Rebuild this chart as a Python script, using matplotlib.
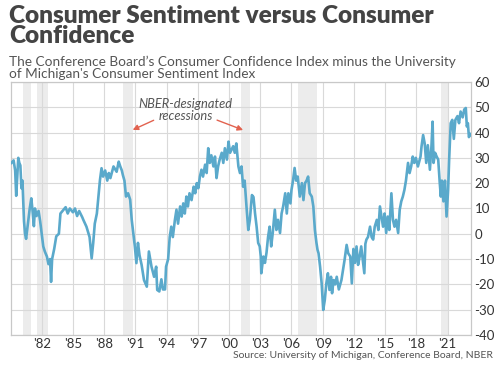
"""
Consumer Confidence (Conference Board) minus Consumer Sentiment (UMich).
"""
import matplotlib.pyplot as plt

plt.rcParams['font.family'] = ['Lato', 'DejaVu Sans']
plt.rcParams['axes.unicode_minus'] = False

# decimal year, index difference
years = [
    1979.10, 1979.30, 1979.45, 1979.55, 1979.75, 1979.85, 1979.95, 1980.05,
    1980.15, 1980.30, 1980.40, 1980.50, 1980.70, 1980.85, 1981.00, 1981.10,
    1981.25, 1981.35, 1981.50, 1981.70, 1981.85, 1982.00, 1982.15, 1982.30,
    1982.50, 1982.65, 1982.80, 1982.90, 1983.00, 1983.20, 1983.40, 1983.65,
    1983.80, 1984.10, 1984.30, 1984.50, 1984.70, 1985.00, 1985.20, 1985.40,
    1985.60, 1985.90, 1986.00, 1986.30, 1986.60, 1986.80, 1986.95, 1987.10,
    1987.30, 1987.45, 1987.60, 1987.75, 1987.90, 1988.10, 1988.30, 1988.45,
    1988.60, 1988.90, 1989.20, 1989.40, 1989.55, 1989.70, 1989.80, 1989.95,
    1990.10, 1990.30, 1990.50, 1990.65, 1990.80, 1990.95, 1991.10, 1991.25,
    1991.40, 1991.60, 1991.83, 1992.10, 1992.30, 1992.55, 1992.80, 1993.00,
    1993.10, 1993.30, 1993.50, 1993.65, 1993.85, 1993.95, 1994.15, 1994.30,
    1994.45, 1994.60, 1994.80, 1994.95, 1995.10, 1995.30, 1995.45, 1995.60,
    1995.75, 1995.90, 1996.05, 1996.20, 1996.40, 1996.60, 1996.75, 1996.90,
    1997.05, 1997.20, 1997.35, 1997.50, 1997.70, 1997.85, 1998.00, 1998.15,
    1998.30, 1998.50, 1998.65, 1998.80, 1998.95, 1999.10, 1999.30, 1999.45,
    1999.60, 1999.80, 1999.95, 2000.10, 2000.25, 2000.40, 2000.55, 2000.70,
    2000.90, 2001.05, 2001.20, 2001.35, 2001.50, 2001.70, 2001.85, 2002.00,
    2002.20, 2002.35, 2002.50, 2002.65, 2002.80, 2002.95, 2003.05, 2003.10,
    2003.30, 2003.45, 2003.60, 2003.75, 2003.90, 2004.05, 2004.20, 2004.40,
    2004.55, 2004.70, 2004.90, 2005.05, 2005.20, 2005.40, 2005.55, 2005.70,
    2005.90, 2006.00, 2006.15, 2006.30, 2006.45, 2006.60, 2006.80, 2007.00,
    2007.15, 2007.30, 2007.45, 2007.60, 2007.75, 2007.95, 2008.10, 2008.25,
    2008.40, 2008.50, 2008.60, 2008.75, 2008.90, 2009.05, 2009.20, 2009.35,
    2009.50, 2009.65, 2009.80, 2009.90, 2010.05, 2010.20, 2010.35, 2010.55,
    2010.80, 2010.95, 2011.10, 2011.30, 2011.45, 2011.65, 2011.80, 2011.95,
    2012.10, 2012.25, 2012.40, 2012.55, 2012.70, 2012.85, 2013.00, 2013.10,
    2013.20, 2013.35, 2013.55, 2013.70, 2013.85, 2014.00, 2014.20, 2014.35,
    2014.50, 2014.65, 2014.80, 2014.95, 2015.10, 2015.25, 2015.40, 2015.60,
    2015.75, 2015.90, 2016.05, 2016.25, 2016.40, 2016.55, 2016.70, 2016.85,
    2017.00, 2017.20, 2017.35, 2017.50, 2017.65, 2017.80, 2017.95, 2018.15,
    2018.40, 2018.50, 2018.65, 2018.80, 2018.95, 2019.10, 2019.30, 2019.45,
    2019.56, 2019.65, 2019.80, 2019.95, 2020.10, 2020.25, 2020.35, 2020.45,
    2020.60, 2020.75, 2020.90, 2021.05, 2021.15, 2021.30, 2021.45, 2021.60,
    2021.75, 2021.95, 2022.10, 2022.25, 2022.45, 2022.60, 2022.75, 2022.85,
    2022.95, 2023.05, 2023.20,
]
diff = [
    28, 29, 25, 15, 30, 28, 27, 18,
    21, 5, 0, -2, 5, 10, 14, 10,
    3, 10, 7, 9, 5, 0, -5, -7,
    -9, -12, -10, -19, -10, -6, -1, 0,
    8, 9.5, 10.5, 8, 10, 8.5, 10, 7,
    9, 6.5, 5.5, 2.8, -1.3, -9.7, -3.6, 4,
    8, 14.5, 21.3, 25.9, 22.6, 25, 21, 24,
    22, 26.6, 24.5, 28.5, 26.6, 25, 23.2, 21,
    14.7, 16, 13.5, 5.5, 0.3, -5, -11.6, -3.6,
    -8.5, -12.3, -18.3, -20.9, -7, -13, -17, -13,
    -22.2, -22.8, -18, -22, -22, -13, -10, -1.3,
    2.8, -1.3, 5.5, 9.5, 4, 10.8, 6.8, 12,
    8, 14.7, 10.8, 16, 13.3, 18.6, 16, 20,
    18, 22.6, 25.3, 22.6, 27.3, 24, 33.8, 28,
    31, 26.6, 30.5, 22, 26.6, 29.3, 32, 28,
    33.8, 29.3, 36.4, 32, 33.3, 34.6, 32, 35.7,
    26.6, 24, 26.6, 18.6, 21, 9.5, 1.5, 5.5,
    15.3, 14.5, 8, 2.8, -3.6, -5, -9, -15.6,
    -9, -11.5, -7.5, -1.3, 2.8, -5, 0.3, 9.5,
    1.5, 5.5, 0.3, 8, 10.8, 16, 8, 16,
    12, 17.3, 21, 26, 21, 22.6, 14.7, 20,
    13.3, 20, 21, 22.6, 16, 14.7, 10.8, 1.5,
    -3.6, -6.3, -7.7, -13, -19.6, -30.1, -26.2, -19.6,
    -15.6, -22.2, -17, -23.5, -18.3, -20, -17, -22,
    -18.3, -14.3, -10.4, -4.4, -7.7, -9, -19.6, -6,
    -11.5, -5, -12.3, -9, -5, -10.4, -15.6, -4,
    -2.3, -1.3, 2.8, -1.3, -2.3, 2.8, 5.5, 1.5,
    10.8, 6.8, 2.8, 8, 0.3, 6.8, 1.5, 16,
    5.5, 2.8, 5.5, 0.3, 9.5, 12.8, 14.7, 17.3,
    21, 28, 24, 26.6, 30.5, 28, 30, 26.6,
    30.5, 34.6, 39, 35.7, 28, 35, 25.3, 34.6,
    44.3, 28, 32, 30.5, 29.3, 20, 14.7, 21,
    12.8, 21, 6.8, 17.3, 29.3, 43.7, 45, 37.5,
    45, 46.5, 43.7, 48.3, 46, 49.1, 49.7, 42.4,
    43.7, 38.2, 39.4,
]

# recession bands as drawn on the chart
rec_start = [1980.23, 1981.58, 1989.78, 2001.14, 2006.65, 2020.33]
rec_end = [1980.97, 1982.58, 1990.74, 2002.00, 2008.42, 2021.00]

tick_years = [1982, 1985, 1988, 1991, 1994, 1997, 2000, 2003, 2006, 2009,
              2012, 2015, 2018, 2021]
tick_labels = ["'82", "'85", "'88", "'91", "'94", "'97", "'00", "'03", "'06",
               "'09", "'12", "'15", "'18", "'21"]
y_ticks = [-40, -30, -20, -10, 0, 10, 20, 30, 40, 50, 60]

fig = plt.figure(figsize=(5, 3.7), dpi=100)
ax = fig.add_axes([0.022, 0.0946, 0.92, 0.684])

for s, e in zip(rec_start, rec_end):
    ax.axvspan(s, e, color="#ececec", lw=0, zorder=0)

ax.plot(years, diff, color="#5aa9cb", lw=1.9, zorder=3)

ax.set_xlim(1979.05, 2023.25)
ax.set_ylim(-40, 60)
ax.set_xticks(tick_years)
ax.set_xticklabels(tick_labels)
ax.set_yticks(y_ticks)
ax.yaxis.tick_right()
ax.tick_params(length=0, labelsize=9.5, colors="#333333")
ax.tick_params(axis="x", pad=2.5)
ax.tick_params(axis="y", pad=2.5)
ax.grid(True, color="#d9d9d9", lw=0.8, zorder=1)
ax.set_axisbelow(True)
for s in ax.spines.values():
    s.set_color("#c8c8c8")
    s.set_linewidth(0.9)

# annotation
ax.text(1995.85, 49.0, "NBER-designated\nrecessions", ha="center", va="center",
        fontsize=9.3, style="italic", color="#555555", linespacing=1.05)
arrow = dict(arrowstyle="-|>", color="#e2624f", lw=1.0, mutation_scale=8)
ax.annotate("", xy=(1990.5, 40.6), xytext=(1993.0, 45.3), arrowprops=arrow)
ax.annotate("", xy=(2001.6, 40.6), xytext=(1998.6, 45.3), arrowprops=arrow)

fig.text(0.018, 0.987, "Consumer Sentiment versus Consumer\nConfidence",
         ha="left", va="top", fontsize=17.6, fontweight="heavy",
         color="#444444", linespacing=0.9)
fig.text(0.018, 0.85, "The Conference Board’s Consumer Confidence Index minus the University\n"
         "of Michigan's Consumer Sentiment Index",
         ha="left", va="top", fontsize=9.8, color="#555555", linespacing=1.0)
fig.text(0.985, 0.04, "Source: University of Michigan, Conference Board, NBER",
         ha="right", va="center", fontsize=7.5, color="#555555")

fig.savefig("out.png", dpi=100)
